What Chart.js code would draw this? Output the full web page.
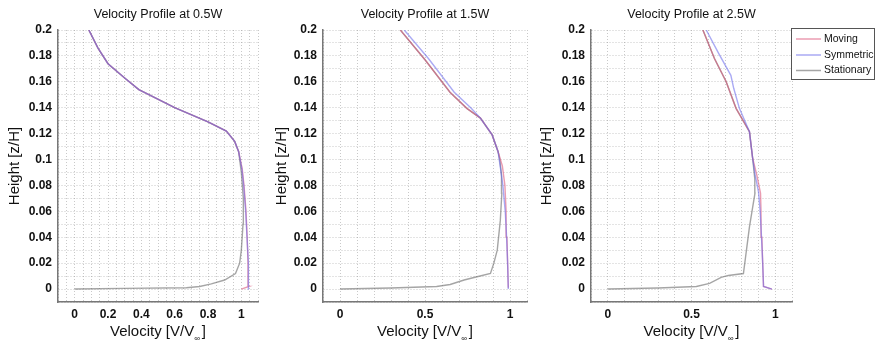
<!DOCTYPE html>
<html>
<head>
<meta charset="UTF-8">
<title>Velocity Profiles</title>
<script src="https://cdn.jsdelivr.net/npm/chart.js"></script>
<style>
  html, body { margin: 0; padding: 0; background: #fff; }
  body { width: 876px; height: 342px; position: relative; overflow: hidden; }
  .panel { position: absolute; top: 0; height: 342px; }
</style>
</head>
<body>
<div class="panel" style="left:0;width:270px"><canvas id="c1"></canvas></div>
<div class="panel" style="left:266px;width:266px"><canvas id="c2"></canvas></div>
<div class="panel" style="left:532px;width:344px"><canvas id="c3"></canvas></div>
<script>
const seriesNames = ['Moving', 'Symmetric', 'Stationary'];
const panelTitles = ['Velocity Profile at 0.5W', 'Velocity Profile at 1.5W', 'Velocity Profile at 2.5W'];

// [velocity V/Vinf, height z/H]
const moving05 = [[1.0, 0.0], [1.045, 0.002], [1.04, 0.02], [1.035, 0.04], [1.028, 0.06], [1.016, 0.08], [1.005, 0.093], [0.984, 0.106], [0.96, 0.114], [0.91, 0.122], [0.8, 0.129], [0.6, 0.140], [0.43, 0.151], [0.385, 0.154], [0.3, 0.163], [0.2, 0.174], [0.14, 0.186], [0.085, 0.2]];
const symmetric05 = [[1.045, 0.0], [1.045, 0.002], [1.04, 0.02], [1.034, 0.04], [1.026, 0.06], [1.014, 0.08], [1.003, 0.093], [0.984, 0.106], [0.96, 0.114], [0.91, 0.122], [0.8, 0.129], [0.6, 0.140], [0.43, 0.151], [0.385, 0.154], [0.3, 0.163], [0.2, 0.174], [0.14, 0.186], [0.085, 0.2]];
const stationary05 = [[0.0, 0.0], [0.3, 0.0005], [0.67, 0.001], [0.75, 0.002], [0.82, 0.004], [0.9, 0.007], [0.965, 0.012], [0.99, 0.02], [1.0, 0.03], [1.01, 0.05], [1.012, 0.07], [1.0, 0.09], [0.984, 0.106], [0.96, 0.114], [0.91, 0.122], [0.8, 0.129], [0.6, 0.140], [0.43, 0.151], [0.385, 0.154], [0.3, 0.163], [0.2, 0.174], [0.14, 0.186], [0.085, 0.2]];

const moving15 = [[0.99, 0.001], [0.986, 0.02], [0.982, 0.04], [0.977, 0.06], [0.97, 0.08], [0.955, 0.095], [0.93, 0.106], [0.895, 0.119], [0.826, 0.132], [0.746, 0.1395], [0.647, 0.152], [0.5, 0.177], [0.355, 0.2]];
const symmetric15 = [[0.99, 0.0], [0.986, 0.02], [0.98, 0.04], [0.972, 0.06], [0.958, 0.08], [0.942, 0.095], [0.93, 0.106], [0.895, 0.119], [0.826, 0.132], [0.772, 0.1395], [0.672, 0.152], [0.52, 0.178], [0.378, 0.2]];
const stationary15 = [[0.0, 0.0], [0.3, 0.0008], [0.568, 0.002], [0.648, 0.0035], [0.73, 0.007], [0.806, 0.0095], [0.885, 0.012], [0.905, 0.02], [0.925, 0.03], [0.943, 0.053], [0.952, 0.074], [0.95, 0.088], [0.94, 0.1], [0.93, 0.106], [0.895, 0.119], [0.826, 0.132], [0.746, 0.1395], [0.647, 0.152], [0.5, 0.177], [0.355, 0.2]];

const moving25 = [[0.98, 0.0], [0.93, 0.002], [0.925, 0.02], [0.92, 0.04], [0.915, 0.06], [0.912, 0.074], [0.89, 0.088], [0.865, 0.101], [0.846, 0.1215], [0.766, 0.1395], [0.707, 0.16], [0.637, 0.178], [0.568, 0.2]];
const symmetric25 = [[0.98, 0.0], [0.93, 0.002], [0.925, 0.02], [0.918, 0.04], [0.91, 0.06], [0.9, 0.075], [0.88, 0.088], [0.865, 0.101], [0.846, 0.1215], [0.786, 0.1395], [0.752, 0.155], [0.735, 0.165], [0.662, 0.182], [0.588, 0.2]];
const stationary25 = [[0.0, 0.0], [0.3, 0.0008], [0.529, 0.002], [0.608, 0.0044], [0.677, 0.009], [0.72, 0.0105], [0.81, 0.012], [0.846, 0.048], [0.879, 0.074], [0.878, 0.085], [0.865, 0.101], [0.846, 0.1215], [0.766, 0.1395], [0.707, 0.16], [0.637, 0.178], [0.568, 0.2]];

const xTicks05 = [0, 0.2, 0.4, 0.6, 0.8, 1];
const xTicksWide = [0, 0.5, 1];
const yTicks = [0, 0.02, 0.04, 0.06, 0.08, 0.1, 0.12, 0.14, 0.16, 0.18, 0.2];

const colors = ['rgba(220,90,125,0.6)', 'rgba(100,100,235,0.55)', 'rgba(105,105,105,0.6)'];
const drawOrder = [1, 0, 2];
const fontFamily = '"Liberation Sans", Arial, Helvetica, sans-serif';

const panels = [
  { id: 'c1', title: panelTitles[0], series: [moving05, symmetric05, stationary05], xTicks: xTicks05, xStep: 0.05, yWidth: 58, padRight: 12, yTitlePad: 6, legend: false },
  { id: 'c2', title: panelTitles[1], series: [moving15, symmetric15, stationary15], xTicks: xTicksWide, xStep: 0.1, yWidth: 57, padRight: 5, yTitlePad: 7, legend: false },
  { id: 'c3', title: panelTitles[2], series: [moving25, symmetric25, stationary25], xTicks: xTicksWide, xStep: 0.1, yWidth: 59, padRight: 84, yTitlePad: 6, legend: true }
];

const hasTick = (list, v) => list.find(t => Math.abs(t - v) < 1e-6);

// panel title over the axes, x title with a subscript infinity
const axesTextPlugin = {
  id: 'axesText',
  afterDraw(chart, args, opts) {
    const { ctx, chartArea } = chart;
    const cx = (chartArea.left + chartArea.right) / 2;
    ctx.save();
    ctx.fillStyle = '#111';
    ctx.textBaseline = 'middle';
    ctx.textAlign = 'center';
    ctx.font = '12.5px ' + fontFamily;
    ctx.fillText(opts.title, cx, 15);

    const y = 332;
    const main = 'Velocity [V/V';
    ctx.textAlign = 'left';
    ctx.font = '15px ' + fontFamily;
    const wMain = ctx.measureText(main).width;
    const wEnd = ctx.measureText(']').width;
    ctx.font = '8px ' + fontFamily;
    const wSub = ctx.measureText('\u221E').width;
    let x = cx - (wMain + wSub + 2 + wEnd) / 2;
    ctx.font = '15px ' + fontFamily;
    ctx.fillText(main, x, y);
    x += wMain;
    ctx.font = '8px ' + fontFamily;
    ctx.fillText('\u221E', x, y + 7);
    x += wSub + 2;
    ctx.font = '15px ' + fontFamily;
    ctx.fillText(']', x, y);
    ctx.restore();
  }
};

// boxed legend to the right of the last panel
const boxLegendPlugin = {
  id: 'boxLegend',
  afterDraw(chart, args, opts) {
    if (!opts.show) return;
    const { ctx } = chart;
    const left = 259, top = 28, w = 84, h = 52;
    const rows = [39, 55, 70.5];
    ctx.save();
    ctx.fillStyle = '#fff';
    ctx.fillRect(left, top, w, h);
    ctx.strokeStyle = '#555';
    ctx.lineWidth = 1;
    ctx.strokeRect(left + 0.5, top + 0.5, w - 1, h - 1);
    ctx.font = '10.5px ' + fontFamily;
    ctx.textBaseline = 'middle';
    ctx.fillStyle = '#111';
    chart.data.datasets.forEach((ds, i) => {
      ctx.strokeStyle = ds.borderColor;
      ctx.lineWidth = 1.5;
      ctx.beginPath();
      ctx.moveTo(left + 5, rows[i]);
      ctx.lineTo(left + 30, rows[i]);
      ctx.stroke();
      ctx.fillText(ds.label, left + 33, rows[i]);
    });
    ctx.restore();
  }
};

panels.forEach(p => {
  new Chart(document.getElementById(p.id), {
    type: 'scatter',
    data: {
      datasets: p.series.map((pts, i) => ({
        label: seriesNames[i],
        data: pts.map(([x, y]) => ({ x, y })),
        showLine: true,
        order: drawOrder[i],
        borderColor: colors[i],
        backgroundColor: colors[i],
        borderWidth: 1.4,
        pointRadius: 0,
        tension: 0
      }))
    },
    options: {
      responsive: true,
      maintainAspectRatio: false,
      animation: false,
      layout: { padding: { left: 0, right: p.padRight, top: 30, bottom: 0 } },
      plugins: {
        legend: { display: false },
        tooltip: { enabled: false },
        title: { display: false },
        axesText: { title: p.title },
        boxLegend: { show: p.legend }
      },
      scales: {
        x: {
          type: 'linear',
          min: -0.1,
          max: 1.1,
          afterFit: (scale) => { scale.height = 40; },
          ticks: {
            stepSize: p.xStep,
            autoSkip: false,
            maxRotation: 0,
            minRotation: 0,
            padding: 5,
            color: '#111',
            font: { family: fontFamily, size: 12, weight: 'bold' },
            callback: (v) => { const t = hasTick(p.xTicks, v); return t !== undefined ? String(t) : ''; }
          },
          grid: { color: 'rgba(120,120,120,0.4)', lineWidth: 1, drawTicks: false },
          border: { display: true, color: '#777', width: 1.5, dash: [1, 2] }
        },
        y: {
          type: 'linear',
          min: -0.01,
          max: 0.2,
          afterFit: (scale) => { scale.width = p.yWidth; },
          ticks: {
            stepSize: 0.01,
            autoSkip: false,
            padding: 6,
            color: '#111',
            font: { family: fontFamily, size: 12, weight: 'bold' },
            callback: (v) => { const t = hasTick(yTicks, v); return t !== undefined ? String(t) : ''; }
          },
          grid: { color: 'rgba(120,120,120,0.4)', lineWidth: 1, drawTicks: false },
          border: { display: true, color: '#777', width: 1.5, dash: [1, 2] },
          title: {
            display: true,
            text: 'Height [z/H]',
            color: '#111',
            font: { family: fontFamily, size: 15 },
            padding: { top: p.yTitlePad, bottom: 0 }
          }
        }
      }
    },
    plugins: [axesTextPlugin, boxLegendPlugin]
  });
});
</script>
</body>
</html>
